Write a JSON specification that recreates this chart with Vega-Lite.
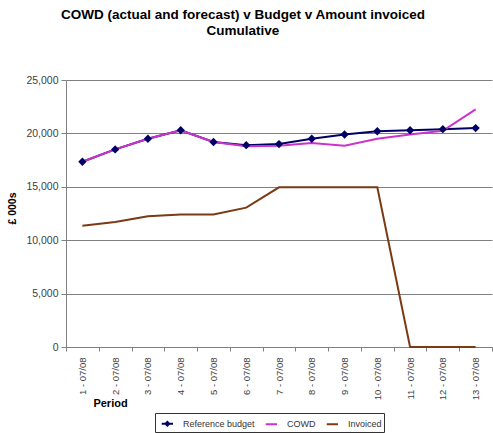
{
  "$schema": "https://vega.github.io/schema/vega-lite/v6.json",
  "autosize": "none",
  "width": 426,
  "height": 267,
  "padding": {"left": 66, "top": 80, "right": 1, "bottom": 86},
  "background": "white",
  "title": {
    "text": ["COWD (actual and forecast) v Budget v Amount invoiced", "Cumulative"],
    "font": "Liberation Sans",
    "fontSize": 13.5,
    "fontWeight": "bold",
    "color": "#000000",
    "anchor": "middle",
    "dx": -36,
    "offset": 38,
    "lineHeight": 16
  },
  "config": {
    "view": {"stroke": null},
    "font": "Liberation Sans"
  },
  "data": {
    "values": [
      {"period": "1 - 07/08", "series": "Reference budget", "value": 17350},
      {"period": "2 - 07/08", "series": "Reference budget", "value": 18500},
      {"period": "3 - 07/08", "series": "Reference budget", "value": 19500},
      {"period": "4 - 07/08", "series": "Reference budget", "value": 20300},
      {"period": "5 - 07/08", "series": "Reference budget", "value": 19200},
      {"period": "6 - 07/08", "series": "Reference budget", "value": 18900},
      {"period": "7 - 07/08", "series": "Reference budget", "value": 19000},
      {"period": "8 - 07/08", "series": "Reference budget", "value": 19500},
      {"period": "9 - 07/08", "series": "Reference budget", "value": 19900},
      {"period": "10 - 07/08", "series": "Reference budget", "value": 20200},
      {"period": "11 - 07/08", "series": "Reference budget", "value": 20300},
      {"period": "12 - 07/08", "series": "Reference budget", "value": 20400},
      {"period": "13 - 07/08", "series": "Reference budget", "value": 20500},
      {"period": "1 - 07/08", "series": "COWD", "value": 17350},
      {"period": "2 - 07/08", "series": "COWD", "value": 18500},
      {"period": "3 - 07/08", "series": "COWD", "value": 19500},
      {"period": "4 - 07/08", "series": "COWD", "value": 20300},
      {"period": "5 - 07/08", "series": "COWD", "value": 19200},
      {"period": "6 - 07/08", "series": "COWD", "value": 18800},
      {"period": "7 - 07/08", "series": "COWD", "value": 18850},
      {"period": "8 - 07/08", "series": "COWD", "value": 19100},
      {"period": "9 - 07/08", "series": "COWD", "value": 18850},
      {"period": "10 - 07/08", "series": "COWD", "value": 19500},
      {"period": "11 - 07/08", "series": "COWD", "value": 19900},
      {"period": "12 - 07/08", "series": "COWD", "value": 20250},
      {"period": "13 - 07/08", "series": "COWD", "value": 22250},
      {"period": "1 - 07/08", "series": "Invoiced", "value": 11350},
      {"period": "2 - 07/08", "series": "Invoiced", "value": 11700},
      {"period": "3 - 07/08", "series": "Invoiced", "value": 12250},
      {"period": "4 - 07/08", "series": "Invoiced", "value": 12400},
      {"period": "5 - 07/08", "series": "Invoiced", "value": 12400},
      {"period": "6 - 07/08", "series": "Invoiced", "value": 13050},
      {"period": "7 - 07/08", "series": "Invoiced", "value": 14950},
      {"period": "8 - 07/08", "series": "Invoiced", "value": 14950},
      {"period": "9 - 07/08", "series": "Invoiced", "value": 14950},
      {"period": "10 - 07/08", "series": "Invoiced", "value": 14950},
      {"period": "11 - 07/08", "series": "Invoiced", "value": 0},
      {"period": "12 - 07/08", "series": "Invoiced", "value": 0},
      {"period": "13 - 07/08", "series": "Invoiced", "value": 0}
    ]
  },
  "encoding": {
    "x": {
      "field": "period",
      "type": "nominal",
      "sort": null,
      "scale": {"type": "band", "paddingInner": 0, "paddingOuter": 0},
      "axis": {
        "title": "Period",
        "titleFont": "Liberation Sans",
        "titleFontSize": 11,
        "titleFontWeight": "bold",
        "titleColor": "#000000",
        "titleX": 44,
        "titleY": 56,
        "titleAlign": "center",
        "titleBaseline": "middle",
        "labelAngle": -90,
        "labelFontSize": 9.5,
        "labelColor": "#404040",
        "labelPadding": 6,
        "tickBand": "extent",
        "tickSize": 4,
        "tickColor": "#808080",
        "domainColor": "#808080",
        "grid": false
      }
    },
    "y": {
      "field": "value",
      "type": "quantitative",
      "scale": {"domain": [0, 25000]},
      "axis": {
        "title": "£ 000s",
        "titleFont": "Liberation Sans",
        "titleFontSize": 10.5,
        "titleFontWeight": "bold",
        "titleColor": "#000000",
        "titleX": -54,
        "titleY": 128,
        "titleAlign": "center",
        "titleBaseline": "middle",
        "values": [0, 5000, 10000, 15000, 20000, 25000],
        "format": ",d",
        "labelFontSize": 10.5,
        "labelColor": "#404040",
        "labelPadding": 3,
        "tickSize": 5,
        "tickColor": "#808080",
        "domainColor": "#808080",
        "grid": true,
        "gridColor": "#808080",
        "gridWidth": 1
      }
    },
    "color": {
      "field": "series",
      "type": "nominal",
      "scale": {
        "domain": ["Reference budget", "COWD", "Invoiced"],
        "range": ["#000066", "#cc33cc", "#7a3a14"]
      },
      "legend": {
        "title": null,
        "orient": "none",
        "direction": "horizontal",
        "legendX": 89,
        "legendY": 333,
        "symbolType": "M-0.5,0L1,0",
        "symbolSize": 225,
        "symbolStrokeWidth": 2,
        "labelFontSize": 9,
        "labelColor": "#333333",
        "labelOffset": 9,
        "columnPadding": 6,
        "rowPadding": 0,
        "strokeColor": "#333333",
        "padding": 2,
        "encode": {
          "symbols": {
            "update": {
              "shape": [
                {"test": "datum.value === 'Reference budget'", "value": "M-0.5,0L1,0M0.25,-0.25L0.5,0L0.25,0.25L0,0Z"},
                {"value": "M-0.5,0L1,0"}
              ],
              "fill": [
                {"test": "datum.value === 'Reference budget'", "value": "#000066"},
                {"value": "transparent"}
              ]
            }
          }
        }
      }
    }
  },
  "layer": [
    {
      "mark": {"type": "line", "strokeWidth": 2}
    },
    {
      "transform": [{"filter": "datum.series === 'Reference budget'"}],
      "mark": {"type": "point", "shape": "diamond", "filled": true, "size": 70, "opacity": 1}
    }
  ]
}
